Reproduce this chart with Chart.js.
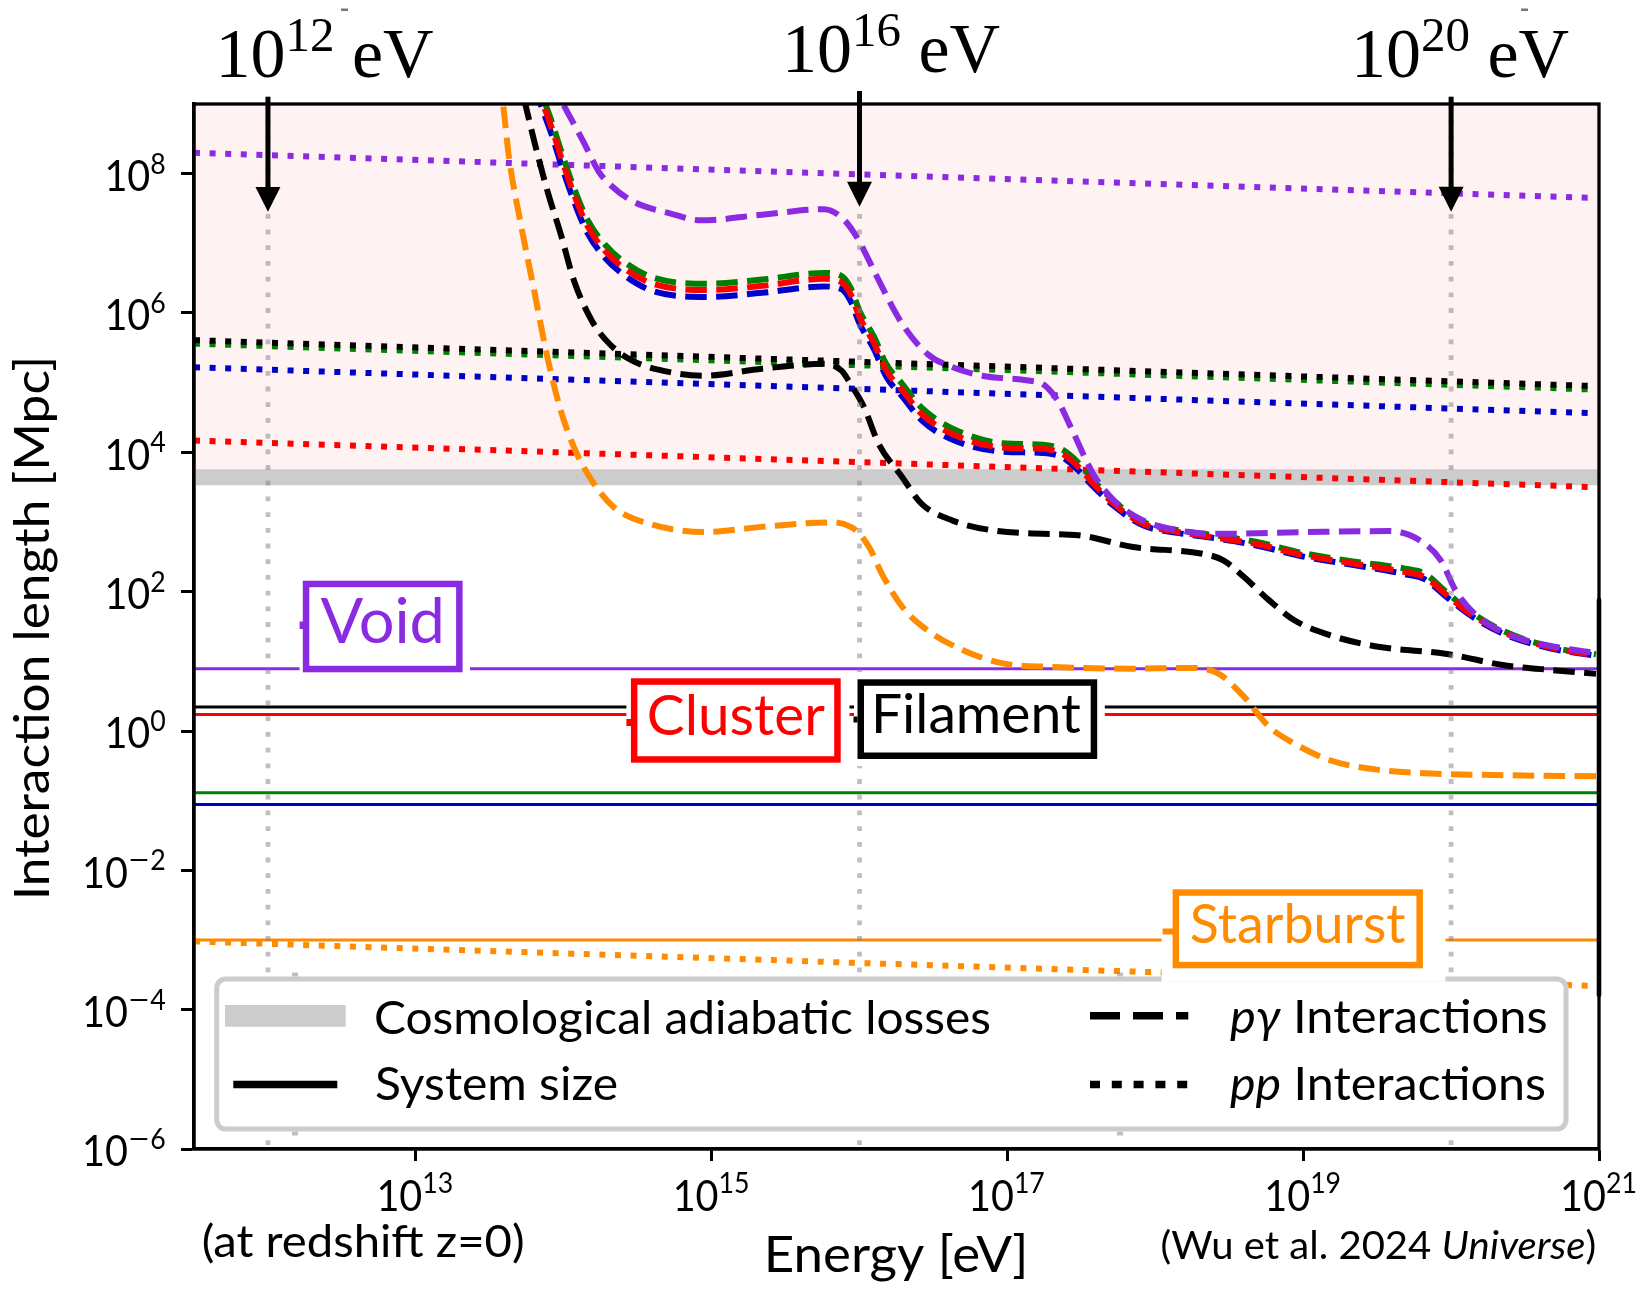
<!DOCTYPE html>
<html><head><meta charset="utf-8">
<script src="https://cdn.jsdelivr.net/npm/chart.js@4.4.1/dist/chart.umd.min.js"></script>
<style>html,body{margin:0;padding:0;background:#fff;}canvas{display:block;}</style>
</head><body>
<canvas id="c" width="1638" height="1291" style="width:1638px;height:1291px"></canvas>
<script>
// ================= DATA (all values are log10 of the quantity) =================
const xRangeLog = [11.5, 21];          // energy axis, log10(eV)
const yRangeLog = [-6, 9];             // interaction length axis, log10(Mpc)
const xTickExps = [13, 15, 17, 19, 21];
const yTickExps = [-6, -4, -2, 0, 2, 4, 6, 8];
const markerExps = [12, 16, 20];       // energies marked with arrows
const markerLabels = ['12', '16', '20'];

const envNames  = ['Void', 'Cluster', 'Filament', 'Green env.', 'Blue env.', 'Starburst'];
const envColors = ['#8a2be2', '#ff0000', '#000000', '#008000', '#0000cd', '#ff8c00'];

// System size (solid lines), log10 Mpc
const systemSizeLog = [0.895, 0.236, 0.345, -0.888, -1.055, -3.0];
// Cosmological adiabatic loss length, log10 Mpc
const adiabaticLog = 3.643;

// pp interaction lengths (dotted), log10 Mpc at energies ppLogE
const ppLogE       = [11.5, 16.0, 20.98];
const ppVoid       = [8.30, 7.99, 7.65];
const ppCluster    = [4.17, 3.86, 3.50];
const ppFilament   = [5.61, 5.30, 4.95];
const ppGreen      = [5.56, 5.25, 4.90];
const ppBlue       = [5.22, 4.91, 4.56];
const ppStarburst  = [-3.02, -3.33, -3.66];

// p-gamma interaction lengths (dashed)
const pgVoidLogE = [13.90, 13.995, 14.13, 14.24, 14.31, 14.46, 14.735, 14.93, 15.34, 15.76, 15.88, 15.97, 16.03, 16.12, 16.29, 16.46, 16.63, 16.83, 17.14, 17.24, 17.34, 17.44, 17.58, 17.72, 17.92, 18.16, 18.395, 19.01, 19.585, 19.79, 19.93, 20.03, 20.16, 20.37, 20.71, 20.98];
const pgVoidLogL = [9.37, 9.00, 8.47, 8.02, 7.85, 7.61, 7.42, 7.33, 7.41, 7.49, 7.37, 7.13, 6.90, 6.51, 5.84, 5.41, 5.22, 5.10, 5.03, 4.98, 4.74, 4.31, 3.69, 3.31, 3.02, 2.88, 2.83, 2.855, 2.87, 2.735, 2.45, 2.02, 1.68, 1.40, 1.205, 1.12];

const pgClusterLogE = [13.80, 13.86, 13.92, 13.98, 14.07, 14.16, 14.28, 14.43, 14.61, 14.98, 15.34, 15.76, 15.88, 15.94, 16.00, 16.10, 16.18, 16.29, 16.42, 16.63, 16.97, 17.24, 17.37, 17.48, 17.58, 17.72, 17.92, 18.16, 18.395, 18.67, 19.01, 19.35, 19.69, 19.82, 19.96, 20.13, 20.37, 20.71, 20.98];
const pgClusterLogL = [9.35, 9.00, 8.65, 8.25, 7.70, 7.25, 6.89, 6.61, 6.415, 6.33, 6.39, 6.49, 6.44, 6.27, 5.94, 5.56, 5.18, 4.89, 4.55, 4.26, 4.07, 4.05, 3.98, 3.79, 3.55, 3.26, 2.97, 2.855, 2.78, 2.69, 2.52, 2.40, 2.28, 2.21, 1.97, 1.68, 1.40, 1.18, 1.09];
const pgGreenLogL   = [9.44, 9.09, 8.74, 8.34, 7.79, 7.34, 6.98, 6.70, 6.505, 6.42, 6.48, 6.575, 6.53, 6.36, 6.03, 5.65, 5.27, 4.98, 4.64, 4.34, 4.13, 4.11, 4.04, 3.85, 3.60, 3.30, 3.00, 2.88, 2.81, 2.72, 2.55, 2.43, 2.33, 2.26, 2.01, 1.71, 1.42, 1.19, 1.10];
const pgBlueLogL    = [9.25, 8.90, 8.55, 8.15, 7.60, 7.15, 6.79, 6.51, 6.31, 6.23, 6.29, 6.38, 6.34, 6.17, 5.85, 5.47, 5.09, 4.80, 4.46, 4.18, 4.01, 3.99, 3.93, 3.74, 3.51, 3.23, 2.95, 2.84, 2.77, 2.67, 2.50, 2.38, 2.25, 2.18, 1.94, 1.66, 1.38, 1.17, 1.08];

const pgFilamentLogE = [13.68, 13.74, 13.80, 13.89, 13.98, 14.07, 14.19, 14.31, 14.46, 14.675, 14.95, 15.34, 15.76, 15.88, 15.94, 16.03, 16.13, 16.29, 16.42, 16.63, 16.90, 17.24, 17.48, 17.85, 18.33, 18.46, 18.60, 18.77, 18.94, 19.18, 19.52, 19.96, 20.37, 20.71, 20.98];
const pgFilamentLogL = [9.50, 9.00, 8.47, 7.75, 7.13, 6.46, 5.89, 5.555, 5.32, 5.17, 5.10, 5.20, 5.27, 5.17, 4.98, 4.65, 4.12, 3.64, 3.26, 3.02, 2.88, 2.83, 2.81, 2.64, 2.54, 2.45, 2.21, 1.875, 1.59, 1.375, 1.205, 1.11, 0.94, 0.87, 0.82];

const pgStarburstLogE = [13.565, 13.59, 13.63, 13.71, 13.80, 13.89, 13.98, 14.07, 14.19, 14.34, 14.585, 14.95, 15.34, 15.82, 15.94, 16.00, 16.07, 16.15, 16.29, 16.46, 16.70, 16.97, 17.31, 17.82, 18.26, 18.43, 18.60, 18.77, 18.94, 19.18, 19.52, 19.86, 20.37, 20.98];
const pgStarburstLogL = [9.40, 9.00, 8.23, 7.275, 6.32, 5.36, 4.60, 4.07, 3.595, 3.21, 2.97, 2.855, 2.93, 2.995, 2.93, 2.83, 2.62, 2.26, 1.78, 1.445, 1.16, 0.97, 0.92, 0.895, 0.905, 0.82, 0.49, 0.06, -0.18, -0.42, -0.56, -0.61, -0.635, -0.65];

// dark segment on the right frame edge (log10 Mpc)
const edgeMarkLog = [1.88, -3.79];

const legendLabels = ['Cosmological adiabatic losses', 'System size', 'pγ Interactions', 'pp Interactions'];

// ================= helpers =================
const P = v => Math.pow(10, v);
const pts = (le, ll) => le.map((e, i) => ({x: P(e), y: P(ll[i])}));
const flat = (yl) => [{x: P(xRangeLog[0]), y: P(yl)}, {x: P(xRangeLog[1]), y: P(yl)}];

const SANS = 'Lato';
const SERIF = '"Liberation Serif"';
function fnt(p){ return (p.style || 'normal') + ' ' + (p.weight || 'normal') + ' ' + p.size + 'px ' + (p.family || SANS); }
function drawRuns(ctx, parts, o){
  ctx.save();
  ctx.textAlign = 'left'; ctx.textBaseline = 'alphabetic';
  const adv = []; let bl = 0, br = 0;
  parts.forEach((p, i) => {
    const k = p.sx || 1;
    ctx.font = fnt(p); const m = ctx.measureText(p.t); adv.push(m.width * k);
    if (i === 0) bl = m.actualBoundingBoxLeft * k;
    if (i === parts.length - 1) br = m.actualBoundingBoxRight * k;
  });
  let sumPrev = 0; for (let i = 0; i < adv.length - 1; i++) sumPrev += adv[i];
  const inkL = -bl, inkR = sumPrev + br;
  let sx = o.sx || 1;
  if (o.left != null && o.right != null) sx = (o.right - o.left) / (inkR - inkL);
  let x0;
  if (o.left != null) x0 = o.left - inkL * sx;
  else if (o.center != null) x0 = o.center - (inkL + inkR) / 2 * sx;
  else x0 = o.right - inkR * sx;
  let cx = x0;
  parts.forEach((p, i) => {
    ctx.save(); ctx.translate(cx, o.y + (p.dy || 0)); ctx.scale(sx * (p.sx || 1), 1);
    ctx.font = fnt(p); ctx.fillStyle = p.color || o.color || '#000';
    ctx.fillText(p.t, 0, 0); ctx.restore();
    cx += adv[i] * sx;
  });
  ctx.restore();
}
function rrect(ctx, x, y, w, h, r){
  ctx.beginPath(); ctx.moveTo(x + r, y); ctx.lineTo(x + w - r, y); ctx.arcTo(x + w, y, x + w, y + r, r);
  ctx.lineTo(x + w, y + h - r); ctx.arcTo(x + w, y + h, x + w - r, y + h, r);
  ctx.lineTo(x + r, y + h); ctx.arcTo(x, y + h, x, y + h - r, r);
  ctx.lineTo(x, y + r); ctx.arcTo(x, y, x + r, y, r); ctx.closePath();
}

// ================= datasets (listed bottom -> top) =================
const LW_SOLID = 3, LW_DOT = 6, LW_DASH = 6;
const DOT = [6, 9.6], DASH = [21.5, 9.4];
const layers = [];
layers.push({label: 'adiabatic', data: flat(adiabaticLog), borderColor: '#cccccc', borderWidth: 16,
  fill: 'end', backgroundColor: 'rgba(255,0,0,0.05)'});
[0, 2, 1, 3, 4, 5].forEach(i => layers.push({label: envNames[i] + ' size', data: flat(systemSizeLog[i]),
  borderColor: envColors[i], borderWidth: LW_SOLID}));
const ppSeries = [ppVoid, ppCluster, ppFilament, ppGreen, ppBlue, ppStarburst];
[3, 2, 4, 1, 0, 5].forEach(i => layers.push({label: envNames[i] + ' pp', data: pts(ppLogE, ppSeries[i]),
  borderColor: envColors[i], borderWidth: LW_DOT, borderDash: DOT}));
const pgSeries = [
  [pgVoidLogE, pgVoidLogL], [pgClusterLogE, pgClusterLogL], [pgFilamentLogE, pgFilamentLogL],
  [pgClusterLogE, pgGreenLogL], [pgClusterLogE, pgBlueLogL], [pgStarburstLogE, pgStarburstLogL]];
[4, 3, 1, 2, 5, 0].forEach(i => layers.push({label: envNames[i] + ' pg', data: pts(pgSeries[i][0], pgSeries[i][1]),
  borderColor: envColors[i], borderWidth: LW_DASH, borderDash: DASH, cubicInterpolationMode: 'monotone'}));
markerExps.forEach(e => layers.push({label: 'guide ' + e, data: [{x: P(e), y: P(yRangeLog[1])}, {x: P(e), y: P(yRangeLog[0])}],
  borderColor: 'rgba(128,128,128,0.5)', borderWidth: 4.8, borderDash: [4.8, 10.9]}));
layers.push({label: 'edge', data: [{x: P(xRangeLog[1]), y: P(edgeMarkLog[0])}, {x: P(xRangeLog[1]), y: P(edgeMarkLog[1])}],
  borderColor: '#000', borderWidth: 4.6, clip: false});

const datasets = layers.map((d, i) => Object.assign({
  pointRadius: 0, pointHoverRadius: 0, borderCapStyle: 'butt', borderJoinStyle: 'round',
  tension: 0, fill: false, order: layers.length - i, spanGaps: true
}, d));

// ================= annotation layout (pixels) =================
const labelBoxes = [
  {text: 'Void', color: '#8a2be2', box: [302.8, 580.7, 462.6, 672.3], pad: [299.6, 574, 470, 679], ink: [320.6, 441.2], base: 642.7, size: 62,
   nub: [299.6, 621.5, 3.6, 7.5]},
  {text: 'Cluster', color: '#ff0000', box: [630.9, 678.3, 840.7, 762.7], pad: [626.4, 671, 849.5, 770], ink: [648.8, 825], base: 735, size: 57,
   nub: [626.4, 719, 4.6, 7]},
  {text: 'Filament', color: '#000000', box: [857.5, 679.3, 1097.2, 759], pad: [854, 672, 1104.8, 766], ink: [876, 1081], base: 732.7, size: 55,
   nub: [853.5, 716.5, 4, 6]},
  {text: 'Starburst', color: '#ff8c00', box: [1172.6, 889.3, 1422.9, 968.3], pad: [1161.6, 877, 1445.5, 981.7], ink: [1190.7, 1405.3], base: 943.3, size: 54,
   nub: [1162.6, 928.5, 12, 6]}
];
const markerText = [
  {left: 221.5, base: 77.3, top: 96.7, head: 187, tip: 211.7, tick: [341, 8.5]},
  {left: 788, base: 72.0, top: 91, head: 181.7, tip: 206.7, tick: null},
  {left: 1357, base: 77.3, top: 96.7, head: 186.7, tip: 211.7, tick: [1521, 8.5]}
];
const legendSpecks = [[292, 972.5], [1117, 972.5], [292, 1131.5], [1117, 1131.5]];

const decor = {
  id: 'decor',
  afterDatasetsDraw(chart){
    const ctx = chart.ctx, ca = chart.chartArea;
    // legend
    ctx.save();
    ctx.fillStyle = 'rgba(128,128,128,0.5)';
    legendSpecks.forEach(s => ctx.fillRect(s[0], s[1], 6, 4));
    rrect(ctx, 216.7, 979, 1566 - 216.7, 1129 - 979, 9);
    ctx.fillStyle = '#ffffff'; ctx.fill();
    ctx.lineWidth = 5; ctx.strokeStyle = '#cccccc'; ctx.stroke();
    ctx.lineCap = 'butt';
    ctx.strokeStyle = '#cccccc'; ctx.lineWidth = 21.7;
    ctx.beginPath(); ctx.moveTo(225, 1015.8); ctx.lineTo(345.7, 1015.8); ctx.stroke();
    ctx.strokeStyle = '#000'; ctx.lineWidth = 7.5;
    ctx.beginPath(); ctx.moveTo(233.3, 1084.5); ctx.lineTo(337.3, 1084.5); ctx.stroke();
    ctx.setLineDash([30, 13]);
    ctx.beginPath(); ctx.moveTo(1090, 1015.8); ctx.lineTo(1188.3, 1015.8); ctx.stroke();
    ctx.setLineDash([10, 11.8]);
    ctx.beginPath(); ctx.moveTo(1090, 1084.5); ctx.lineTo(1188.3, 1084.5); ctx.stroke();
    ctx.setLineDash([]);
    ctx.restore();
    drawRuns(ctx, [{t: legendLabels[0], size: 46}], {left: 376, right: 990, y: 1034});
    drawRuns(ctx, [{t: legendLabels[1], size: 46}], {left: 376, right: 616.7, y: 1100});
    drawRuns(ctx, [{t: 'pγ', size: 46, style: 'italic'}, {t: ' Interactions', size: 46}], {left: 1230, right: 1546.7, y: 1032.7});
    drawRuns(ctx, [{t: 'pp', size: 46, style: 'italic'}, {t: ' Interactions', size: 46}], {left: 1230, right: 1545, y: 1100});

    // environment label boxes
    labelBoxes.forEach(b => {
      ctx.save();
      ctx.fillStyle = '#fff';
      ctx.fillRect(b.pad[0], b.pad[1], b.pad[2] - b.pad[0], b.pad[3] - b.pad[1]);
      const lw = 6.5;
      ctx.lineWidth = lw; ctx.strokeStyle = b.color;
      ctx.strokeRect(b.box[0] + lw / 2, b.box[1] + lw / 2, b.box[2] - b.box[0] - lw, b.box[3] - b.box[1] - lw);
      ctx.fillStyle = b.color;
      ctx.fillRect(b.nub[0], b.nub[1], b.nub[2], b.nub[3]);
      ctx.restore();
      drawRuns(ctx, [{t: b.text, size: b.size, color: b.color}], {left: b.ink[0], right: b.ink[1], y: b.base});
    });

    // frame
    ctx.save();
    ctx.strokeStyle = '#000'; ctx.lineWidth = 3.3;
    ctx.strokeRect(ca.left, ca.top, ca.right - ca.left, ca.bottom - ca.top);
    ctx.restore();
  },
  afterDraw(chart){
    const ctx = chart.ctx;
    const xs = chart.scales.x, ys = chart.scales.y;
    // tick labels
    yTickExps.forEach(e => {
      const y = ys.getPixelForValue(P(e));
      const parts = [{t: '10', size: 43}];
      if (e < 0) parts.push({t: '\u2212', size: 29, dy: -17.4, sx: 1.45});
      parts.push({t: String(Math.abs(e)), size: 29, dy: -17.4});
      drawRuns(ctx, parts, {right: 165, y: y + 17.4, sx: 0.92});
    });
    xTickExps.forEach(e => {
      const x = xs.getPixelForValue(P(e));
      drawRuns(ctx, [{t: '10', size: 43}, {t: String(e), size: 29, dy: -17.4}], {center: x, y: 1210.7, sx: 0.92});
    });
    // axis titles
    ctx.save(); ctx.translate(49, 628); ctx.rotate(-Math.PI / 2);
    drawRuns(ctx, [{t: 'Interaction length [Mpc]', size: 49}], {left: -268, right: 268, y: 0});
    ctx.restore();
    drawRuns(ctx, [{t: 'Energy [eV]', size: 50}], {left: 768, right: 1024, y: 1272});
    drawRuns(ctx, [{t: '(at redshift z=0)', size: 44}], {left: 202.7, right: 522.7, y: 1256.7});
    drawRuns(ctx, [{t: '(Wu et al. 2024 ', size: 38}, {t: 'Universe', size: 38, style: 'italic'}, {t: ')', size: 38}],
      {left: 1161.6, right: 1595, y: 1259});
    // energy markers: arrows + labels
    markerExps.forEach((e, i) => {
      const m = markerText[i];
      const x = xs.getPixelForValue(P(e));
      ctx.save();
      ctx.strokeStyle = '#000'; ctx.fillStyle = '#000'; ctx.lineWidth = 5;
      ctx.beginPath(); ctx.moveTo(x, m.top); ctx.lineTo(x, m.head + 1); ctx.stroke();
      ctx.beginPath(); ctx.moveTo(x - 12.5, m.head); ctx.lineTo(x + 12.5, m.head); ctx.lineTo(x, m.tip); ctx.closePath(); ctx.fill();
      if (m.tick) { ctx.fillStyle = '#777'; ctx.fillRect(m.tick[0], m.tick[1], 7, 2.5); }
      ctx.restore();
      drawRuns(ctx, [{t: '10', size: 70, family: SERIF}, {t: markerLabels[i], size: 49, family: SERIF, dy: -26},
        {t: ' eV', size: 70, family: SERIF}], {left: m.left, y: m.base});
    });
  }
};

function build(){
  new Chart(document.getElementById('c'), {
    type: 'line',
    data: {datasets},
    options: {
      responsive: false, animation: false, devicePixelRatio: 1, events: [],
      layout: {padding: {left: 194, right: 39, top: 104, bottom: 142}},
      plugins: {legend: {display: false}, tooltip: {enabled: false}, filler: {propagate: false}},
      scales: {
        x: {type: 'logarithmic', position: 'bottom', min: P(xRangeLog[0]), max: P(xRangeLog[1]),
          afterBuildTicks: s => { s.ticks = xTickExps.map(e => ({value: P(e)})); },
          afterFit: s => { s.height = 0; },
          ticks: {display: false},
          grid: {display: true, drawOnChartArea: false, drawTicks: true, tickLength: 12, tickWidth: 3, tickColor: '#000'},
          border: {display: true, color: '#000', width: 3.3}},
        y: {type: 'logarithmic', position: 'left', min: P(yRangeLog[0]), max: P(yRangeLog[1]),
          afterBuildTicks: s => { s.ticks = yTickExps.map(e => ({value: P(e)})); },
          afterFit: s => { s.width = 0; },
          ticks: {display: false},
          grid: {display: true, drawOnChartArea: false, drawTicks: true, tickLength: 13, tickWidth: 3, tickColor: '#000'},
          border: {display: true, color: '#000', width: 3.3}}
      }
    },
    plugins: [decor]
  });
}
const fl = ['46px Lato', 'italic 46px Lato', '70px "Liberation Serif"'];
Promise.all(fl.map(f => document.fonts.load(f).catch(() => null))).then(build, build);
</script>
</body></html>
